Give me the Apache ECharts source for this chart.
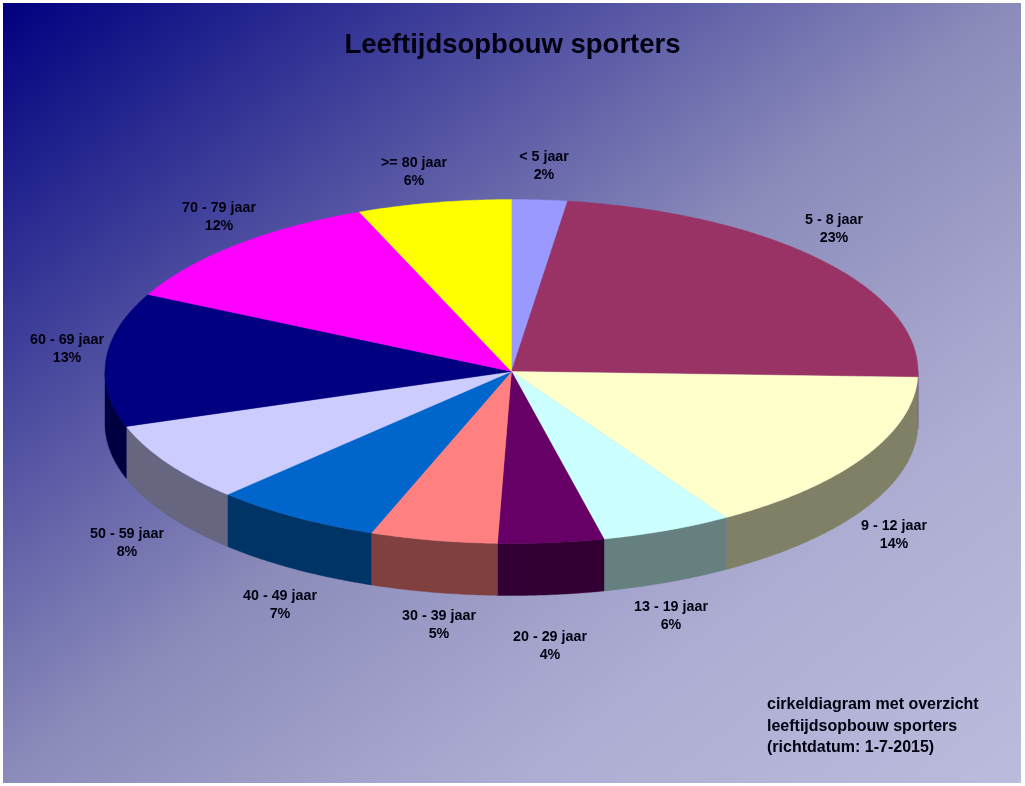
<!DOCTYPE html>
<html>
<head>
<meta charset="utf-8">
<style>html,body{margin:0;padding:0;background:#fff}#c{width:1025px;height:786px}</style>
<script src="https://cdn.jsdelivr.net/npm/echarts@6/dist/echarts.min.js"></script>
</head>
<body>
<div id="c"></div>
<script>
// Data
const categories = ['< 5 jaar','5 - 8 jaar','9 - 12 jaar','13 - 19 jaar','20 - 29 jaar','30 - 39 jaar','40 - 49 jaar','50 - 59 jaar','60 - 69 jaar','70 - 79 jaar','>= 80 jaar'];
const printedPercent = [2,23,14,6,4,5,7,8,13,12,6];
const drawnShare = [2.2,23.3,15.6,5.2,4.2,5.05,6.7,7.5,12.55,11.5,6.1];

// Styles and layout
const topColors = ['#9999FF','#993366','#FFFFCC','#CCFFFF','#660066','#FF8080','#0066CC','#CCCCFF','#000080','#FF00FF','#FFFF00'];
const wallColors = ['#4D4D80','#4D1A33','#808066','#668080','#330033','#804040','#003366','#666680','#000040','#800080','#808000'];
const labelCenters = [[544,166],[834,229],[894,535],[671,616],[550,646],[439,625],[280,605],[127,543],[67,349],[219,217],[414,172]];
const pie = {cx:511.5, cy:371.5, rx:406.5, ry:172, depth:52};
const frame = {x:3, y:3, width:1018, height:780};
const FONT = '"Liberation Sans", Arial, sans-serif';

const total = drawnShare.reduce((a,b)=>a+b,0);
const starts = [];
drawnShare.reduce((acc,v,i)=>{starts[i]=acc;return acc+v;},0);

function rimPoint(deg, dy){
  const r = deg*Math.PI/180;
  return [pie.cx+pie.rx*Math.sin(r), pie.cy-pie.ry*Math.cos(r)+dy];
}
function arc(a0,a1,dy){
  const pts=[], n=Math.max(2,Math.ceil((a1-a0)*2));
  for(let i=0;i<=n;i++) pts.push(rimPoint(a0+(a1-a0)*i/n,dy));
  return pts;
}
function renderSlice(params, api){
  const i = params.dataIndex;
  const a0 = starts[i]/total*360, a1 = (starts[i]+api.value(0))/total*360;
  const children = [];
  const w0 = Math.max(a0,90), w1 = Math.min(a1,270);
  if(w1>w0){
    const pts = arc(w0,w1,0).concat(arc(w0,w1,pie.depth).reverse());
    children.push({type:'polygon',shape:{points:pts},style:{fill:wallColors[i],stroke:wallColors[i],lineWidth:0.4}});
  }
  const top = [[pie.cx,pie.cy]].concat(arc(a0,a1,0));
  children.push({type:'polygon',shape:{points:top},style:{fill:topColors[i],stroke:topColors[i],lineWidth:0.4}});
  children.push({type:'text',z2:10,style:{
    x:labelCenters[i][0],y:labelCenters[i][1],
    text:categories[i]+'\n'+printedPercent[i]+'%',
    align:'center',verticalAlign:'middle',
    font:'bold 14.3px '+FONT,lineHeight:18,fill:'#000010'
  }});
  return {type:'group',children};
}

// Isolines run along the frame's anti-diagonal
const W2 = frame.width*frame.width, H2 = frame.height*frame.height;
const bgGradient = new echarts.graphic.LinearGradient(0,0,2*H2/(W2+H2),2*W2/(W2+H2),[
  {offset:0,color:'#00007F'},{offset:0.5,color:'#8C8CBB'},{offset:0.75,color:'#ADADD3'},{offset:1,color:'#BBBBDD'}
]);

const chart = echarts.init(document.getElementById('c'),null,{renderer:'canvas',devicePixelRatio:1});
chart.setOption({
  animation:false,
  backgroundColor:'#ffffff',
  title:{text:'Leeftijdsopbouw sporters',left:'center',top:26,
    textStyle:{fontFamily:FONT,fontWeight:'bold',fontSize:27.5,color:'#000010'}},
  graphic:[
    {type:'rect',z:-10,silent:true,shape:frame,style:{fill:bgGradient}},
    {type:'text',left:767,top:694,z:5,silent:true,
     style:{text:'cirkeldiagram met overzicht\nleeftijdsopbouw sporters\n(richtdatum: 1-7-2015)',
       font:'bold 16px '+FONT,lineHeight:21.5,fill:'#000010'}}
  ],
  series:[{type:'custom',coordinateSystem:'none',silent:true,clip:false,
    renderItem:renderSlice,
    data:drawnShare.map((v,i)=>({name:categories[i],value:[v]}))}]
});
</script>
</body>
</html>
